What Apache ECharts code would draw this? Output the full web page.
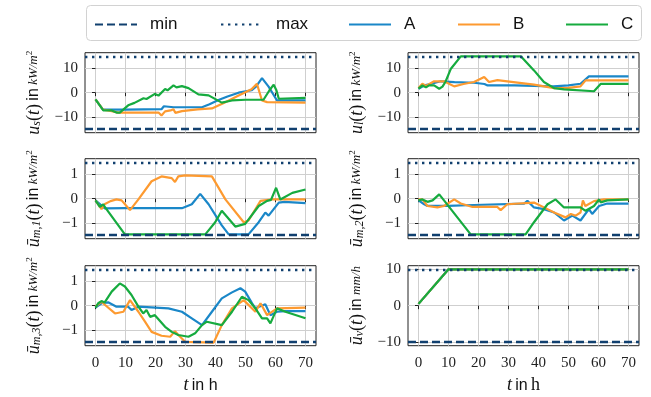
<!DOCTYPE html>
<html><head><meta charset="utf-8">
<script src="https://cdn.jsdelivr.net/npm/echarts@6/dist/echarts.min.js"></script>
<style>html,body{margin:0;padding:0;background:#fff}#c{width:651px;height:397px}</style>
</head><body><div id="c"></div>
<script>
// ---------- data ----------
const seriesNames = ['A', 'B', 'C'];
const xTickVals = [0, 10, 20, 30, 40, 50, 60, 70];
const xLimits = [-3.5, 73.5];

// u_s
const usA = [[0,-2.75],[2.5,-7.0],[10,-7.0],[22,-6.8],[22.8,-5.6],[26,-6.0],[35.5,-6.0],[38,-4.8],[41,-3.0],[44,-1.6],[47.7,0],[52,1.0],[53.5,2.5],[55.5,6.0],[57.7,2.5],[60.5,-3.2],[70,-3.2]];
const usB = [[0,-2.75],[2.5,-7.0],[5,-7.5],[7.6,-8.2],[21,-8.2],[22,-9.4],[23.2,-7.7],[25,-7.3],[26,-6.8],[26.6,-8.3],[28.8,-7.6],[34,-6.9],[38.8,-6.5],[43.3,-3.9],[47.7,-1.2],[52,1.4],[53.8,3.7],[55.5,-3.2],[57.2,-3.9],[70,-4.1]];
const usC = [[0,-2.75],[2.6,-7.3],[5.4,-7.3],[7,-8.2],[8.1,-8.2],[10.9,-5.2],[13,-4.2],[16,-2.3],[17,-2.6],[19.8,-0.5],[21,-1.2],[23.2,1.5],[24,1.0],[26,3.0],[27,2.2],[28.8,2.7],[31,1.9],[34.3,-0.7],[37.7,-1.1],[42.1,-4.1],[45.5,-3.2],[50,-2.9],[56,-2.9],[58,1.0],[59.4,3.3],[60.3,1.0],[61.1,-2.5],[70,-2.1]];
// u_l
const ulA = [[0,1.65],[1.9,3.0],[4,3.6],[7.4,4.7],[12,4.4],[18.5,4.1],[22,3.6],[23,3.0],[32,3.0],[45,2.6],[50,3.0],[54,3.7],[56.8,6.75],[70,6.75]];
const ulB = [[0,1.9],[1.3,3.7],[2.5,2.8],[5.2,4.7],[8.5,4.7],[10.5,3.5],[11.9,2.6],[15,3.6],[18.5,4.4],[21.9,6.5],[23.5,4.4],[26.3,5.2],[29.6,4.7],[38.5,3.3],[45.2,1.9],[50,2.0],[54,2.6],[55.7,5.1],[70,5.1]];
const ulC = [[0,1.65],[1.3,3.0],[2.5,2.2],[3.5,3.0],[5.2,3.0],[6.9,1.65],[8,2.5],[9,4.5],[10.8,9.9],[14.1,15],[23,15],[23.5,14.6],[24,15],[34.1,15],[38.5,9.2],[41.8,4.4],[45.2,1.9],[48.5,1.4],[58.5,0.6],[60.7,3.6],[70,3.6]];
// u_m,1
const um1A = [[0,-0.07],[3.1,-0.4],[9.8,-0.39],[28.8,-0.39],[32.1,-0.23],[34.9,0.2],[37.7,-0.23],[42.1,-1.1],[44.4,-1.47],[51,-1.47],[54.4,-0.97],[56.6,-0.57],[57.7,-0.7],[61.1,-0.16],[63,-0.13],[70,-0.18]];
const um1B = [[0,-0.07],[2,-0.43],[3,-0.23],[5,-0.1],[7,-0.03],[8.7,-0.07],[11.5,-0.47],[14.3,-0.03],[18.7,0.72],[22,0.92],[25.4,0.85],[26.5,0.69],[27.6,0.92],[29.9,0.96],[38.8,0.92],[43.3,-0.03],[49.4,-0.97],[51,-0.9],[55,-0.09],[58.9,-0.03],[70,-0.03]];
const um1C = [[0,-0.07],[1.45,-0.34],[2.6,-0.23],[3.1,-0.34],[9.8,-1.47],[36.6,-1.47],[39.9,-0.97],[42.1,-0.5],[46.6,-1.15],[49.9,-1.04],[54.4,-0.3],[57.2,-0.09],[58.5,-0.05],[60.2,0.45],[61.6,-0.03],[65.6,0.24],[70,0.38]];
// u_m,2
const um2A = [[0,-0.07],[1.9,-0.23],[3,-0.3],[9.7,-0.3],[18.5,-0.26],[35.2,-0.2],[36.3,-0.09],[38.5,-0.36],[41.8,-0.43],[45.2,-0.57],[48.5,-0.9],[51.3,-0.7],[54,-0.9],[56.8,-0.43],[57.9,-0.63],[60.2,-0.3],[62.9,-0.2],[70,-0.2]];
const um2B = [[0,-0.03],[1.3,-0.03],[3,-0.3],[6.3,-0.36],[8.5,-0.3],[11.9,-0.03],[14.1,-0.2],[18,-0.34],[26.3,-0.34],[27.4,-0.47],[29.6,-0.23],[38.5,-0.16],[43,-0.43],[45.2,-0.57],[49,-0.77],[50.8,-0.63],[52.4,-0.7],[54,-0.57],[54.8,-0.07],[55.6,-0.3],[58.5,-0.1],[61.8,-0.03],[70,-0.03]];
const um2C = [[0,-0.07],[1.3,-0.03],[3,-0.13],[4.7,-0.07],[6.9,0.18],[8.5,-0.07],[17.4,-1.47],[35.7,-1.47],[38.5,-0.97],[43,-0.23],[45.7,-0.03],[48.5,-0.36],[54,-0.36],[55.7,-0.5],[58.5,-0.3],[60.2,-0.03],[60.7,-0.15],[62.9,-0.07],[70,-0.03]];
// u_m,3
const um3A = [[0,-0.08],[2,0.1],[4.2,0.14],[7,-0.04],[10.9,-0.04],[12,-0.18],[14.3,-0.04],[24.3,-0.11],[28.8,-0.25],[32.1,-0.52],[35.5,-0.8],[38.8,-0.25],[42.1,0.3],[45.5,0.55],[48.3,0.72],[49.9,0.58],[52.2,0.1],[53.3,-0.11],[54.5,-0.04],[56.6,0.06],[58.3,-0.39],[60.5,-0.25],[63.3,-0.22],[70,-0.22]];
const um3B = [[0,-0.04],[2,0.17],[3,0.05],[6.5,-0.32],[9.3,-0.25],[11.5,0.23],[14.3,-0.25],[16.5,-0.66],[18.7,-1.08],[22,-1.24],[24.9,-1.28],[26.5,-1.05],[27.6,-1.21],[29.9,-1.49],[39.4,-1.52],[42.1,-0.8],[45.5,-0.11],[49.4,0.23],[53.3,-0.25],[55,0.1],[55.6,0.1],[57.2,-0.39],[60.5,-0.11],[70,-0.08]];
const um3C = [[0,-0.08],[0.9,0.1],[2,0.19],[3,0.13],[5.4,0.58],[8.1,0.92],[9.8,0.79],[12,0.44],[14.3,-0.04],[15.9,-0.32],[17,-0.18],[18.2,-0.46],[19.8,-0.39],[23.2,-0.87],[25.4,-1.08],[27.6,-1.21],[31,-1.28],[33.2,-1.14],[35.5,-0.8],[37.1,-0.66],[42.1,-0.8],[45.5,-0.25],[48.8,0.37],[51,0.23],[53.3,-0.11],[55.5,-0.52],[57.2,-0.52],[58.3,-0.73],[60.5,-0.11],[63.3,-0.25],[70,-0.52]];
// u_v
const uvA = [[0,0.5],[10,10],[70,10]];
const uvB = [[0,0.5],[10,10],[70,10]];
const uvC = [[0,0.5],[10,10],[70,10]];

// bounds (min / max) and axis ranges / ticks per panel
const boundsU = [-15, 15], ticksU = [-10, 0, 10], limU = [-16.5, 16.5];
const boundsM = [-1.5, 1.5], ticksM = [-1, 0, 1], limM = [-1.65, 1.65];
const boundsV = [-10, 10], ticksV = [-10, 0, 10], limV = [-11, 11];

// ---------- layout / style ----------
const colors = {A: '#1a87c8', B: '#fd9a30', C: '#16ab3f', bound: '#11406f'};
const colLeft = [85, 408], plotW = 231;
const rowTop = [52.7, 158.7, 265.7], plotH = 80;
const serif = 'Liberation Serif', sans = 'Liberation Sans';

const rich = {
  it: {fontFamily: serif, fontStyle: 'italic', fontSize: 18, color: '#111'},
  rm: {fontFamily: serif, fontSize: 18, color: '#111'},
  sans: {fontFamily: sans, fontSize: 16, color: '#111'},
  sub: {fontFamily: serif, fontStyle: 'italic', fontSize: 12, color: '#111', verticalAlign: 'bottom', lineHeight: 12},
  fit: {fontFamily: serif, fontStyle: 'italic', fontSize: 13, color: '#111'},
  fsup: {fontFamily: serif, fontSize: 9, color: '#111', verticalAlign: 'top', lineHeight: 9}
};
const unitKW = '{fit|kW/m}{fsup|2}';
const panels = [
  {row: 0, col: 0, data: [usA, usB, usC], lim: limU, ticks: ticksU, bounds: boundsU,
   name: '{it|u}{sub|s}{rm|(}{it|t}{rm|)} {sans|in} ' + unitKW},
  {row: 0, col: 1, data: [ulA, ulB, ulC], lim: limU, ticks: ticksU, bounds: boundsU,
   name: '{it|u}{sub|l}{rm|(}{it|t}{rm|)} {sans|in} ' + unitKW},
  {row: 1, col: 0, data: [um1A, um1B, um1C], lim: limM, ticks: ticksM, bounds: boundsM,
   name: '{it|ū}{sub|m,1}{rm|(}{it|t}{rm|)} {sans|in} ' + unitKW},
  {row: 1, col: 1, data: [um2A, um2B, um2C], lim: limM, ticks: ticksM, bounds: boundsM,
   name: '{it|ū}{sub|m,2}{rm|(}{it|t}{rm|)} {sans|in} ' + unitKW},
  {row: 2, col: 0, data: [um3A, um3B, um3C], lim: limM, ticks: ticksM, bounds: boundsM,
   name: '{it|ū}{sub|m,3}{rm|(}{it|t}{rm|)} {sans|in} ' + unitKW},
  {row: 2, col: 1, data: [uvA, uvB, uvC], lim: limV, ticks: ticksV, bounds: boundsV,
   name: '{it|ū}{sub|v}{rm|(}{it|t}{rm|)} {sans|in} {fit|mm/h}'}
];

const fmtMinus = v => String(v).replace('-', '\u2212');
const grids = [], xAxes = [], yAxes = [], series = [];

panels.forEach((p, i) => {
  grids.push({left: colLeft[p.col], top: rowTop[p.row], width: plotW, height: plotH,
    show: true, borderColor: '#222', borderWidth: 1, backgroundColor: 'transparent',
    containLabel: false, outerBoundsMode: 'none'});
  const bottomRow = p.row === 2;
  xAxes.push({type: 'value', gridIndex: i, min: xLimits[0], max: xLimits[1],
    axisLine: {show: false},
    axisTick: {show: true, length: 3.5, inside: false, lineStyle: {color: '#222', width: 1}, customValues: xTickVals},
    axisLabel: {show: bottomRow, customValues: xTickVals, fontFamily: serif, fontSize: 15, color: '#222', margin: 10},
    splitLine: {show: true, lineStyle: {color: '#cfcfcf', width: 1}},
    name: bottomRow ? (p.col === 0 ? '{it|t} {sans|in h}' : '{it|t} {sans|in} {rm|h}') : '',
    nameLocation: 'middle', nameGap: 31,
    nameTextStyle: {rich: rich}
  });
  yAxes.push({type: 'value', gridIndex: i, min: p.lim[0], max: p.lim[1],
    axisLine: {show: false},
    axisTick: {show: true, length: 3.5, inside: false, lineStyle: {color: '#222', width: 1}, customValues: p.ticks},
    axisLabel: {customValues: p.ticks, fontFamily: serif, fontSize: 15, color: '#222', margin: 7, formatter: fmtMinus},
    splitLine: {show: true, lineStyle: {color: '#cfcfcf', width: 1}},
    name: p.name, nameLocation: 'middle', nameRotate: 90, nameGap: 42,
    nameTextStyle: {rich: rich}
  });
  series.push({name: 'min', type: 'line', xAxisIndex: i, yAxisIndex: i, data: [], symbol: 'none',
    lineStyle: {color: colors.bound, width: 2.4, type: [8, 4]}, itemStyle: {color: colors.bound},
    markLine: {silent: true, symbol: 'none', label: {show: false},
      lineStyle: {color: colors.bound, width: 2.4, type: [8, 4]}, data: [{yAxis: p.bounds[0]}]}});
  series.push({name: 'max', type: 'line', xAxisIndex: i, yAxisIndex: i, data: [], symbol: 'none',
    lineStyle: {color: colors.bound, width: 2.4, type: [2.4, 4.6]}, itemStyle: {color: colors.bound},
    markLine: {silent: true, symbol: 'none', label: {show: false},
      lineStyle: {color: colors.bound, width: 2.4, type: [2.4, 4.6]}, data: [{yAxis: p.bounds[1]}]}});
  seriesNames.forEach((n, k) => {
    series.push({name: n, type: 'line', xAxisIndex: i, yAxisIndex: i, data: p.data[k],
      symbol: 'none', showSymbol: false, animation: false,
      lineStyle: {color: colors[n], width: 2.2}, itemStyle: {color: colors[n]}});
  });
});

const legendItems = [
  {name: 'min', left: 94}, {name: 'max', left: 220}, {name: 'A', left: 348},
  {name: 'B', left: 457}, {name: 'C', left: 565}
];
const legends = legendItems.map(li => ({
  data: [li.name], left: li.left, top: 16, padding: 0, itemWidth: 42, itemHeight: 14,
  selectedMode: false,
  itemStyle: {opacity: 0},
  textStyle: {fontFamily: sans, fontSize: 17, color: '#111', padding: [0, 0, 0, 8]}
}));

const chart = echarts.init(document.getElementById('c'), null, {renderer: 'canvas'});
chart.setOption({
  animation: false,
  backgroundColor: '#fff',
  graphic: [{type: 'rect', left: 86, top: 5, z: -1,
    shape: {width: 555, height: 35, r: 4},
    style: {fill: '#fff', stroke: '#d2d2d2', lineWidth: 1}}],
  legend: legends,
  grid: grids, xAxis: xAxes, yAxis: yAxes, series: series
});
</script></body></html>
